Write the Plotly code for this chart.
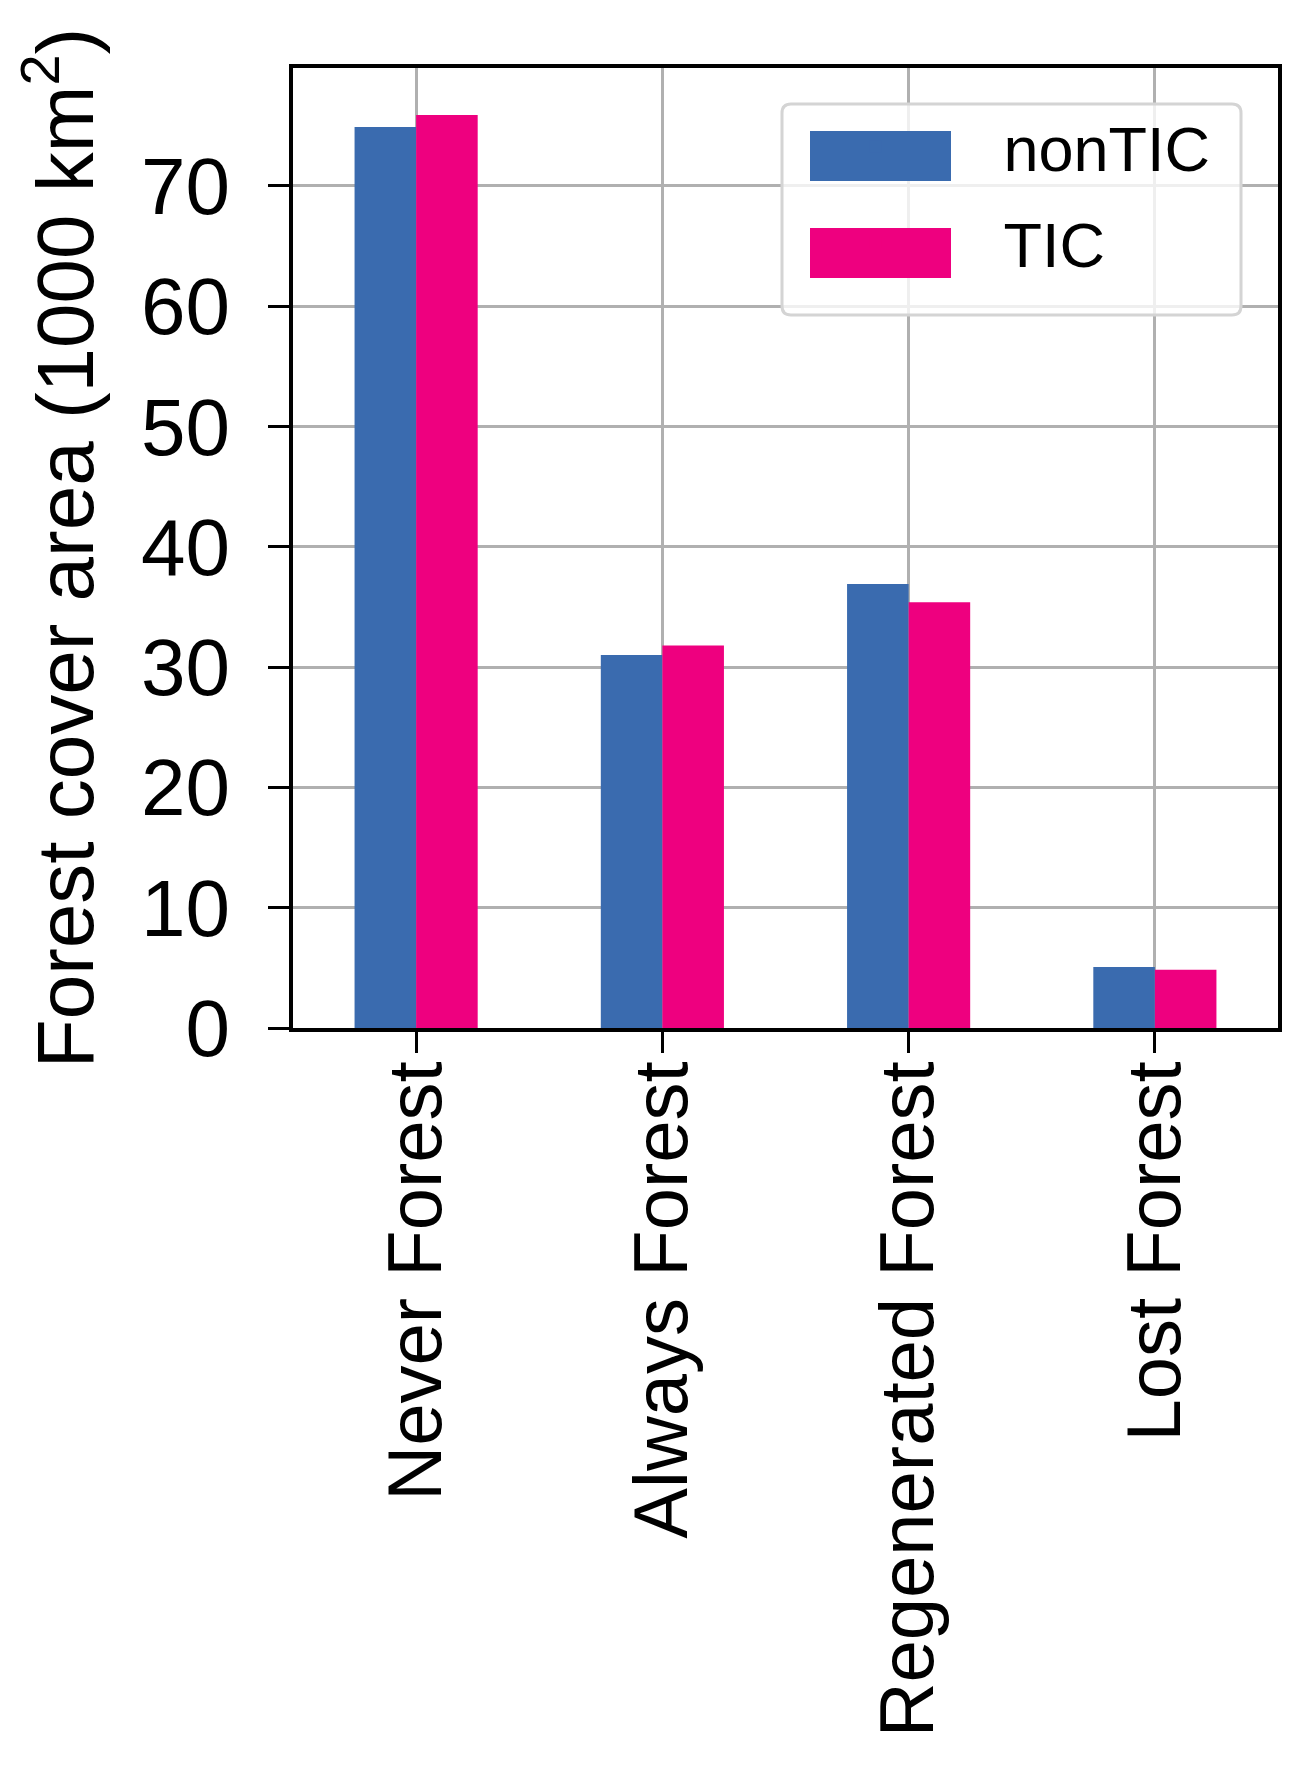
import plotly.graph_objects as go

categories = ["Never Forest", "Always Forest", "Regenerated Forest", "Lost Forest"]
nontic = [74.9, 31.0, 36.9, 5.07]
tic = [75.9, 31.8, 35.4, 4.85]
series_names = ["nonTIC", "TIC"]
y_ticks = [0, 10, 20, 30, 40, 50, 60, 70]

BLUE = "#3a6baf"
PINK = "#ee007f"
FONT = "Liberation Sans, Arial, sans-serif"

W, H = 1304, 1768
ML, MR, MT, MB = 285, 34, 60, 748
PW, PH = W - ML - MR, H - MT - MB

fig = go.Figure()
fig.add_trace(go.Bar(x=categories, y=nontic, name=series_names[0],
                     marker=dict(color=BLUE, line=dict(width=0)), legendgroup="a"))
fig.add_trace(go.Bar(x=categories, y=tic, name=series_names[1],
                     marker=dict(color=PINK, line=dict(width=0)), legendgroup="b"))

axis_common = dict(
    showline=True, linecolor="black", linewidth=4, mirror=True,
    ticks="outside", ticklen=21, tickwidth=3, tickcolor="black",
    showgrid=True, gridcolor="#b0b0b0", gridwidth=3,
    zeroline=False,
)

fig.update_xaxes(**axis_common, tickangle=-90, range=[-0.5, 3.5],
                 tickfont=dict(family=FONT, size=76, color="black"),
                 ticklabelstandoff=-22)
fig.update_yaxes(**axis_common, range=[0, 79.8], tickmode="array",
                 tickvals=y_ticks, ticktext=[str(v) for v in y_ticks],
                 tickfont=dict(family=FONT, size=80, color="black"),
                 ticklabelstandoff=22,
                 title=dict(text="Forest cover area (1000 km<sup>2</sup>)",
                            font=dict(family=FONT, size=80, color="black"),
                            standoff=28))

# legend frame (matplotlib style rounded box) and large handles
def px2x(px):
    return (px - ML) / PW

def py2y(py):
    return (H - MB - py) / PH

x0p, x1p = px2x(774), px2x(1233)
y0p, y1p = py2y(307), py2y(96)
rx, ry = 9 / PW, 9 / PH
path = (f"M{x0p+rx},{y0p} L{x1p-rx},{y0p} Q{x1p},{y0p} {x1p},{y0p+ry} "
        f"L{x1p},{y1p-ry} Q{x1p},{y1p} {x1p-rx},{y1p} L{x0p+rx},{y1p} "
        f"Q{x0p},{y1p} {x0p},{y1p-ry} L{x0p},{y0p+ry} Q{x0p},{y0p} {x0p+rx},{y0p} Z")
shapes = [dict(type="path", path=path, xref="paper", yref="paper", layer="above",
               fillcolor="rgba(255,255,255,0.8)", line=dict(color="#d4d4d4", width=3))]
for (t, b), col in [((123, 173), BLUE), ((220, 270), PINK)]:
    shapes.append(dict(type="rect", xref="paper", yref="paper", layer="above",
                       x0=px2x(802), x1=px2x(943), y0=py2y(b), y1=py2y(t),
                       fillcolor=col, line=dict(width=0)))

ITEMW = 246
fig.update_layout(
    width=W, height=H,
    margin=dict(l=ML, r=MR, t=MT, b=MB, autoexpand=False),
    plot_bgcolor="white", paper_bgcolor="white",
    barmode="group", bargap=0.5, bargroupgap=0,
    font=dict(family=FONT, color="black"),
    shapes=shapes,
    showlegend=True,
    legend=dict(x=px2x(739.5), y=py2y(91), xanchor="left", yanchor="top",
                bgcolor="rgba(0,0,0,0)", borderwidth=0,
                font=dict(family=FONT, size=63, color="black"),
                tracegroupgap=11, itemwidth=ITEMW),
)

fig.write_html("out.html")
